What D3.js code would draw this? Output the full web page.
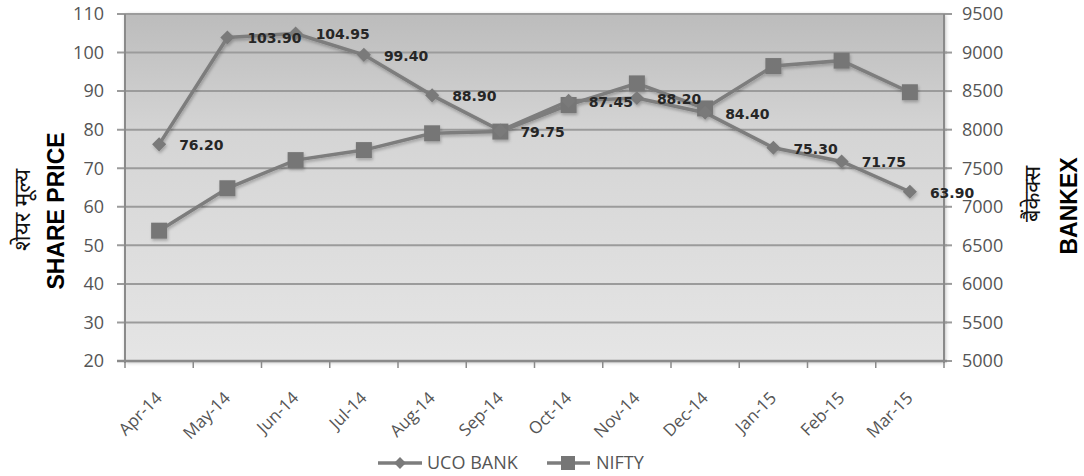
<!DOCTYPE html>
<html>
<head>
<meta charset="utf-8">
<script src="https://cdn.jsdelivr.net/npm/d3@7/dist/d3.min.js"></script>
<style>
  html, body { margin: 0; padding: 0; background: #fff; }
  svg { display: block; }
</style>
</head>
<body>
<svg id="chart" width="1084" height="476"></svg>
<script>
const categories = ["Apr-14","May-14","Jun-14","Jul-14","Aug-14","Sep-14","Oct-14","Nov-14","Dec-14","Jan-15","Feb-15","Mar-15"];
const ucoBank = [76.20, 103.90, 104.95, 99.40, 88.90, 79.75, 87.45, 88.20, 84.40, 75.30, 71.75, 63.90];
const nifty = [6690, 7240, 7605, 7735, 7953, 7975, 8320, 8600, 8275, 8825, 8895, 8485];
const leftTicks = [20, 30, 40, 50, 60, 70, 80, 90, 100, 110];
const rightTicks = [5000, 5500, 6000, 6500, 7000, 7500, 8000, 8500, 9000, 9500];
const seriesNames = ["UCO BANK", "NIFTY"];

const svg = d3.select("#chart");
const L = 125, R = 944, T = 14, B = 361;

const x = d3.scaleBand().domain(categories).range([L, R]);
const yL = d3.scaleLinear().domain([20, 110]).range([B, T]);
const yR = d3.scaleLinear().domain([5000, 9500]).range([B, T]);

const defs = svg.append("defs");
const grad = defs.append("linearGradient").attr("id", "bg").attr("x1", 0).attr("y1", 0).attr("x2", 0).attr("y2", 1);
grad.append("stop").attr("offset", "0%").attr("stop-color", "#bcbcbc");
grad.append("stop").attr("offset", "35%").attr("stop-color", "#d5d5d5");
grad.append("stop").attr("offset", "100%").attr("stop-color", "#e5e5e5");
const f = defs.append("filter").attr("id", "sh").attr("x", "-5%").attr("y", "-5%").attr("width", "110%").attr("height", "110%");
f.append("feDropShadow").attr("dx", 1).attr("dy", 1).attr("stdDeviation", 2).attr("flood-color", "#000").attr("flood-opacity", 0.35);
const f2 = defs.append("filter").attr("id", "lsh").attr("x", "-5%").attr("y", "-5%").attr("width", "110%").attr("height", "110%");
f2.append("feDropShadow").attr("dx", 1).attr("dy", 2).attr("stdDeviation", 1.5).attr("flood-color", "#000").attr("flood-opacity", 0.25);

// plot background
svg.append("rect").attr("x", L).attr("y", T).attr("width", R - L).attr("height", B - T)
  .attr("fill", "url(#bg)").attr("filter", "url(#sh)");

// gridlines
svg.append("g").selectAll("line").data(leftTicks).join("line")
  .attr("x1", L - 8).attr("x2", R + 3)
  .attr("y1", d => yL(d)).attr("y2", d => yL(d))
  .attr("stroke", "#9b9b9b").attr("stroke-width", 2);

// right axis tick marks
svg.append("g").selectAll("line").data(rightTicks).join("line")
  .attr("x1", R).attr("x2", R + 8)
  .attr("y1", d => yR(d)).attr("y2", d => yR(d))
  .attr("stroke", "#9b9b9b").attr("stroke-width", 2);

// axes lines
svg.append("line").attr("x1", L).attr("x2", L).attr("y1", T).attr("y2", B + 2).attr("stroke", "#8a8a8a").attr("stroke-width", 2);
svg.append("line").attr("x1", R).attr("x2", R).attr("y1", T).attr("y2", B + 2).attr("stroke", "#8a8a8a").attr("stroke-width", 2);
svg.append("line").attr("x1", L - 8).attr("x2", R + 3).attr("y1", B).attr("y2", B).attr("stroke", "#8a8a8a").attr("stroke-width", 2.5);

// x ticks at category boundaries
const bounds = categories.map(c => x(c)).concat([R]);
svg.append("g").selectAll("line").data(bounds).join("line")
  .attr("x1", d => d).attr("x2", d => d).attr("y1", B).attr("y2", B + 7)
  .attr("stroke", "#8a8a8a").attr("stroke-width", 1.5);

// left tick labels
svg.append("g").selectAll("text").data(leftTicks).join("text")
  .attr("x", 104).attr("y", d => yL(d)).attr("dy", "0.35em")
  .attr("text-anchor", "end")
  .attr("font-family", "'Open Sans', sans-serif").attr("font-size", 18)
  .attr("fill", "#555").text(d => d);

// right tick labels
svg.append("g").selectAll("text").data(rightTicks).join("text")
  .attr("x", 962).attr("y", d => yR(d)).attr("dy", "0.35em")
  .attr("text-anchor", "start")
  .attr("font-family", "'Open Sans', sans-serif").attr("font-size", 18)
  .attr("fill", "#555").text(d => d);

// x labels
svg.append("g").selectAll("text").data(categories).join("text")
  .attr("transform", d => `translate(${x(d) + x.bandwidth() / 2 + 4},${B + 38}) rotate(-45)`)
  .attr("text-anchor", "end")
  .attr("font-family", "'Open Sans', sans-serif").attr("font-size", 17)
  .attr("fill", "#555").text(d => d);

const cx = d => x(d) + x.bandwidth() / 2;
const col = "#7d7d7d";

const gl = svg.append("g").attr("filter", "url(#lsh)");
// NIFTY line
gl.append("path").datum(nifty)
  .attr("d", d3.line().x((d, i) => cx(categories[i])).y(d => yR(d)))
  .attr("fill", "none").attr("stroke", col).attr("stroke-width", 3.5);
// UCO line
gl.append("path").datum(ucoBank)
  .attr("d", d3.line().x((d, i) => cx(categories[i])).y(d => yL(d)))
  .attr("fill", "none").attr("stroke", col).attr("stroke-width", 3.5);

// NIFTY squares
gl.selectAll("rect.sq").data(nifty).join("rect").attr("class", "sq")
  .attr("x", (d, i) => cx(categories[i]) - 8).attr("y", d => yR(d) - 8)
  .attr("width", 16).attr("height", 16).attr("fill", "#767676");
// UCO diamonds
gl.selectAll("path.dm").data(ucoBank).join("path").attr("class", "dm")
  .attr("transform", (d, i) => `translate(${cx(categories[i])},${yL(d)}) rotate(45)`)
  .attr("d", d3.symbol().type(d3.symbolSquare).size(100)).attr("fill", "#7a7a7a");

// data labels
svg.append("g").selectAll("text").data(ucoBank).join("text")
  .attr("x", (d, i) => cx(categories[i]) + 20).attr("y", d => yL(d) + 1).attr("dy", "0.35em")
  .attr("font-family", "'DejaVu Sans', Verdana, sans-serif").attr("font-weight", "bold").attr("font-size", 14)
  .attr("fill", "#262626").text(d => d.toFixed(2));

// axis titles
const hindiFont = "'Noto Sans Devanagari', 'Lohit Devanagari', 'Noto Sans', 'Mangal', sans-serif";
svg.append("text").attr("transform", "translate(30,210) rotate(-90)").attr("text-anchor", "middle")
  .attr("font-family", hindiFont).attr("font-size", 23).attr("fill", "#111").text("शेयर मूल्य");
svg.append("text").attr("transform", "translate(64,211) rotate(-90)").attr("text-anchor", "middle")
  .attr("font-family", "'Liberation Sans', Arial, sans-serif").attr("font-weight", "bold").attr("font-size", 23)
  .attr("fill", "#000").text("SHARE PRICE");
svg.append("text").attr("transform", "translate(1040,194) rotate(-90)").attr("text-anchor", "middle")
  .attr("font-family", hindiFont).attr("font-size", 22).attr("fill", "#111").text("बैंकेक्स");
svg.append("text").attr("transform", "translate(1077,206) rotate(-90)").attr("text-anchor", "middle")
  .attr("font-family", "'Liberation Sans', Arial, sans-serif").attr("font-weight", "bold").attr("font-size", 23)
  .attr("fill", "#000").text("BANKEX");

// legend
const lg = svg.append("g");
const ly = 463;
lg.append("line").attr("x1", 378).attr("x2", 422).attr("y1", ly).attr("y2", ly).attr("stroke", col).attr("stroke-width", 3.5);
lg.append("path").attr("transform", `translate(400,${ly}) rotate(45)`).attr("d", d3.symbol().type(d3.symbolSquare).size(70)).attr("fill", "#7a7a7a");
lg.append("text").attr("x", 427).attr("y", ly).attr("dy", "0.35em").attr("font-family", "'Open Sans', sans-serif")
  .attr("font-size", 18).attr("fill", "#555").text(seriesNames[0]);
lg.append("line").attr("x1", 547).attr("x2", 590).attr("y1", ly).attr("y2", ly).attr("stroke", col).attr("stroke-width", 3.5);
lg.append("rect").attr("x", 561).attr("y", ly - 7).attr("width", 14).attr("height", 14).attr("fill", "#767676");
lg.append("text").attr("x", 596).attr("y", ly).attr("dy", "0.35em").attr("font-family", "'Open Sans', sans-serif")
  .attr("font-size", 18).attr("fill", "#555").text(seriesNames[1]);
</script>
</body>
</html>
